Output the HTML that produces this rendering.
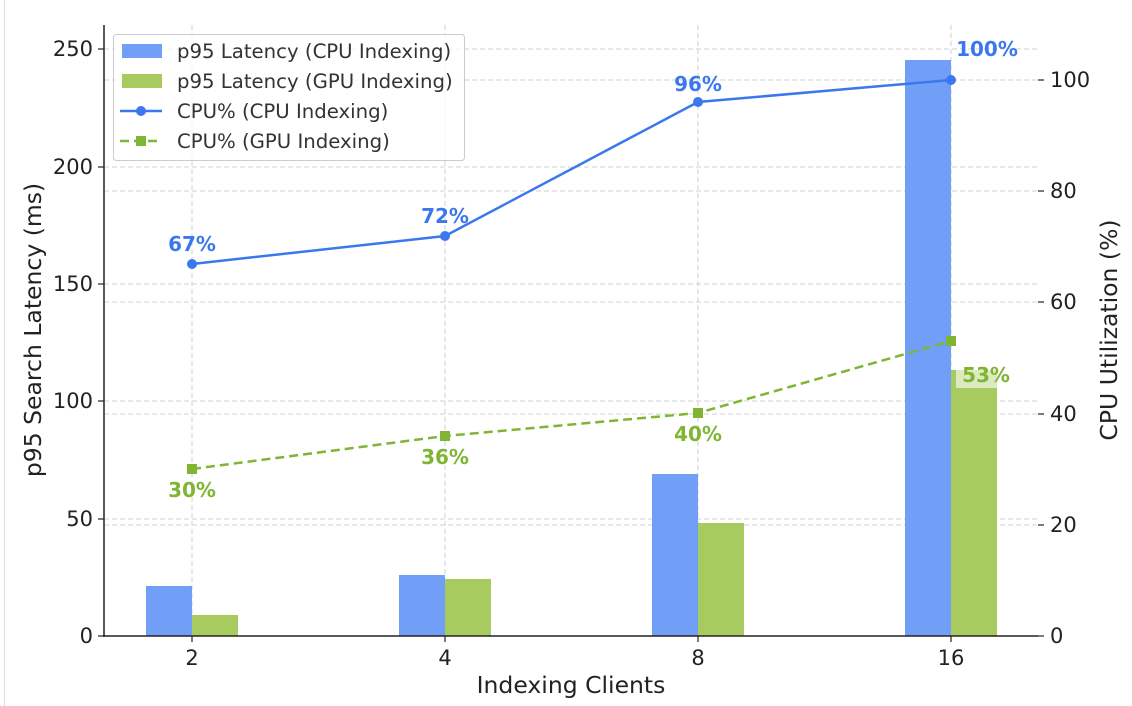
<!DOCTYPE html>
<html><head><meta charset="utf-8"><style>body{margin:0;background:#fff}svg{display:block}text{font-family:"DejaVu Sans","Liberation Sans",sans-serif}</style></head><body>
<svg width="1132" height="706" viewBox="0 0 1132 706">
<rect width="1132" height="706" fill="#fff"/>
<line x1="4.5" y1="0" x2="4.5" y2="706" stroke="#ddd"/>
<g stroke="#d0d0d0" stroke-dasharray="5,3" stroke-width="1">
<line x1="192" y1="25" x2="192" y2="636"/><line x1="445" y1="25" x2="445" y2="636"/><line x1="698" y1="25" x2="698" y2="636"/><line x1="951" y1="25" x2="951" y2="636"/>
<line x1="104" y1="519" x2="1038" y2="519"/><line x1="104" y1="401" x2="1038" y2="401"/><line x1="104" y1="284" x2="1038" y2="284"/><line x1="104" y1="167" x2="1038" y2="167"/><line x1="104" y1="49" x2="1038" y2="49"/>
<line x1="104" y1="525" x2="1038" y2="525"/><line x1="104" y1="414" x2="1038" y2="414"/><line x1="104" y1="302" x2="1038" y2="302"/><line x1="104" y1="191" x2="1038" y2="191"/><line x1="104" y1="80" x2="1038" y2="80"/>
</g>
<g fill="#719ff7"><rect x="146" y="586" width="46" height="50"/><rect x="399" y="575" width="46" height="61"/><rect x="652" y="474" width="46" height="162"/><rect x="905" y="60" width="46" height="576"/></g>
<g fill="#a7cb5f"><rect x="192" y="615" width="46" height="21"/><rect x="445" y="579" width="46" height="57"/><rect x="698" y="523" width="46" height="113"/><rect x="951" y="370" width="46" height="266"/></g>
<polyline points="192,264 445,236 698,102 951,80" fill="none" stroke="#3b78ee" stroke-width="2.5"/>
<g fill="#3b78ee"><circle cx="192" cy="264" r="5"/><circle cx="445" cy="236" r="5"/><circle cx="698" cy="102" r="5"/><circle cx="951" cy="80" r="5"/></g>
<polyline points="192,469 445,436 698,413 951,341" fill="none" stroke="#7fb532" stroke-width="2.5" stroke-dasharray="9,5"/>
<g fill="#7fb532"><rect x="187" y="464" width="10" height="10"/><rect x="440" y="431" width="10" height="10"/><rect x="693" y="408" width="10" height="10"/><rect x="946" y="336" width="10" height="10"/></g>
<g font-weight="bold" font-size="20" fill="#3b78ee" text-anchor="middle"><text x="192" y="251">67%</text><text x="445" y="223">72%</text><text x="698" y="91">96%</text><text x="987" y="56">100%</text></g>
<g font-weight="bold" font-size="20" fill="#7fb532" text-anchor="middle"><text x="192" y="497">30%</text><text x="445" y="464">36%</text><text x="698" y="441">40%</text><rect x="956" y="364" width="56" height="24" fill="#fff" opacity="0.6"/><text x="986" y="382">53%</text></g>
<line x1="104" y1="25" x2="104" y2="637" stroke="#222" stroke-width="1.5"/>
<line x1="103" y1="636" x2="1038" y2="636" stroke="#222" stroke-width="1.5"/>
<g stroke="#222" stroke-width="1.2"><line x1="98" y1="636" x2="104" y2="636"/><line x1="98" y1="519" x2="104" y2="519"/><line x1="98" y1="401" x2="104" y2="401"/><line x1="98" y1="284" x2="104" y2="284"/><line x1="98" y1="167" x2="104" y2="167"/><line x1="98" y1="49" x2="104" y2="49"/>
<line x1="1038" y1="636" x2="1044" y2="636"/><line x1="1038" y1="525" x2="1044" y2="525"/><line x1="1038" y1="414" x2="1044" y2="414"/><line x1="1038" y1="302" x2="1044" y2="302"/><line x1="1038" y1="191" x2="1044" y2="191"/><line x1="1038" y1="80" x2="1044" y2="80"/>
<line x1="192" y1="636" x2="192" y2="642"/><line x1="445" y1="636" x2="445" y2="642"/><line x1="698" y1="636" x2="698" y2="642"/><line x1="951" y1="636" x2="951" y2="642"/></g>
<g font-size="21" fill="#222" text-anchor="end"><text x="93" y="643">0</text><text x="93" y="526">50</text><text x="93" y="408">100</text><text x="93" y="291">150</text><text x="93" y="174">200</text><text x="93" y="56">250</text></g>
<g font-size="21" fill="#222"><text x="1050" y="643">0</text><text x="1050" y="532">20</text><text x="1050" y="421">40</text><text x="1050" y="309">60</text><text x="1050" y="198">80</text><text x="1050" y="87">100</text></g>
<g font-size="21" fill="#222" text-anchor="middle"><text x="192" y="665">2</text><text x="445" y="665">4</text><text x="698" y="665">8</text><text x="951" y="665">16</text></g>
<text x="571" y="693" font-size="23.5" fill="#222" text-anchor="middle">Indexing Clients</text>
<text transform="translate(41,330) rotate(-90)" font-size="23.5" fill="#222" text-anchor="middle">p95 Search Latency (ms)</text>
<text transform="translate(1117,330) rotate(-90)" font-size="23.5" fill="#222" text-anchor="middle">CPU Utilization (%)</text>
<rect x="113.5" y="34.5" width="351" height="126" rx="3" fill="#fff" fill-opacity="0.8" stroke="#ccc"/>
<rect x="122" y="44" width="40" height="14" fill="#719ff7"/>
<rect x="122" y="74" width="40" height="14" fill="#a7cb5f"/>
<line x1="120" y1="111" x2="162" y2="111" stroke="#3b78ee" stroke-width="2.5"/><circle cx="141" cy="111" r="5" fill="#3b78ee"/>
<line x1="120" y1="141" x2="162" y2="141" stroke="#7fb532" stroke-width="2.5" stroke-dasharray="9,5"/><rect x="136" y="136" width="10" height="10" fill="#7fb532"/>
<g font-size="19.7" fill="#333"><text x="177" y="58">p95 Latency (CPU Indexing)</text><text x="177" y="88">p95 Latency (GPU Indexing)</text><text x="177" y="118">CPU% (CPU Indexing)</text><text x="177" y="148">CPU% (GPU Indexing)</text></g>
</svg>
</body></html>
